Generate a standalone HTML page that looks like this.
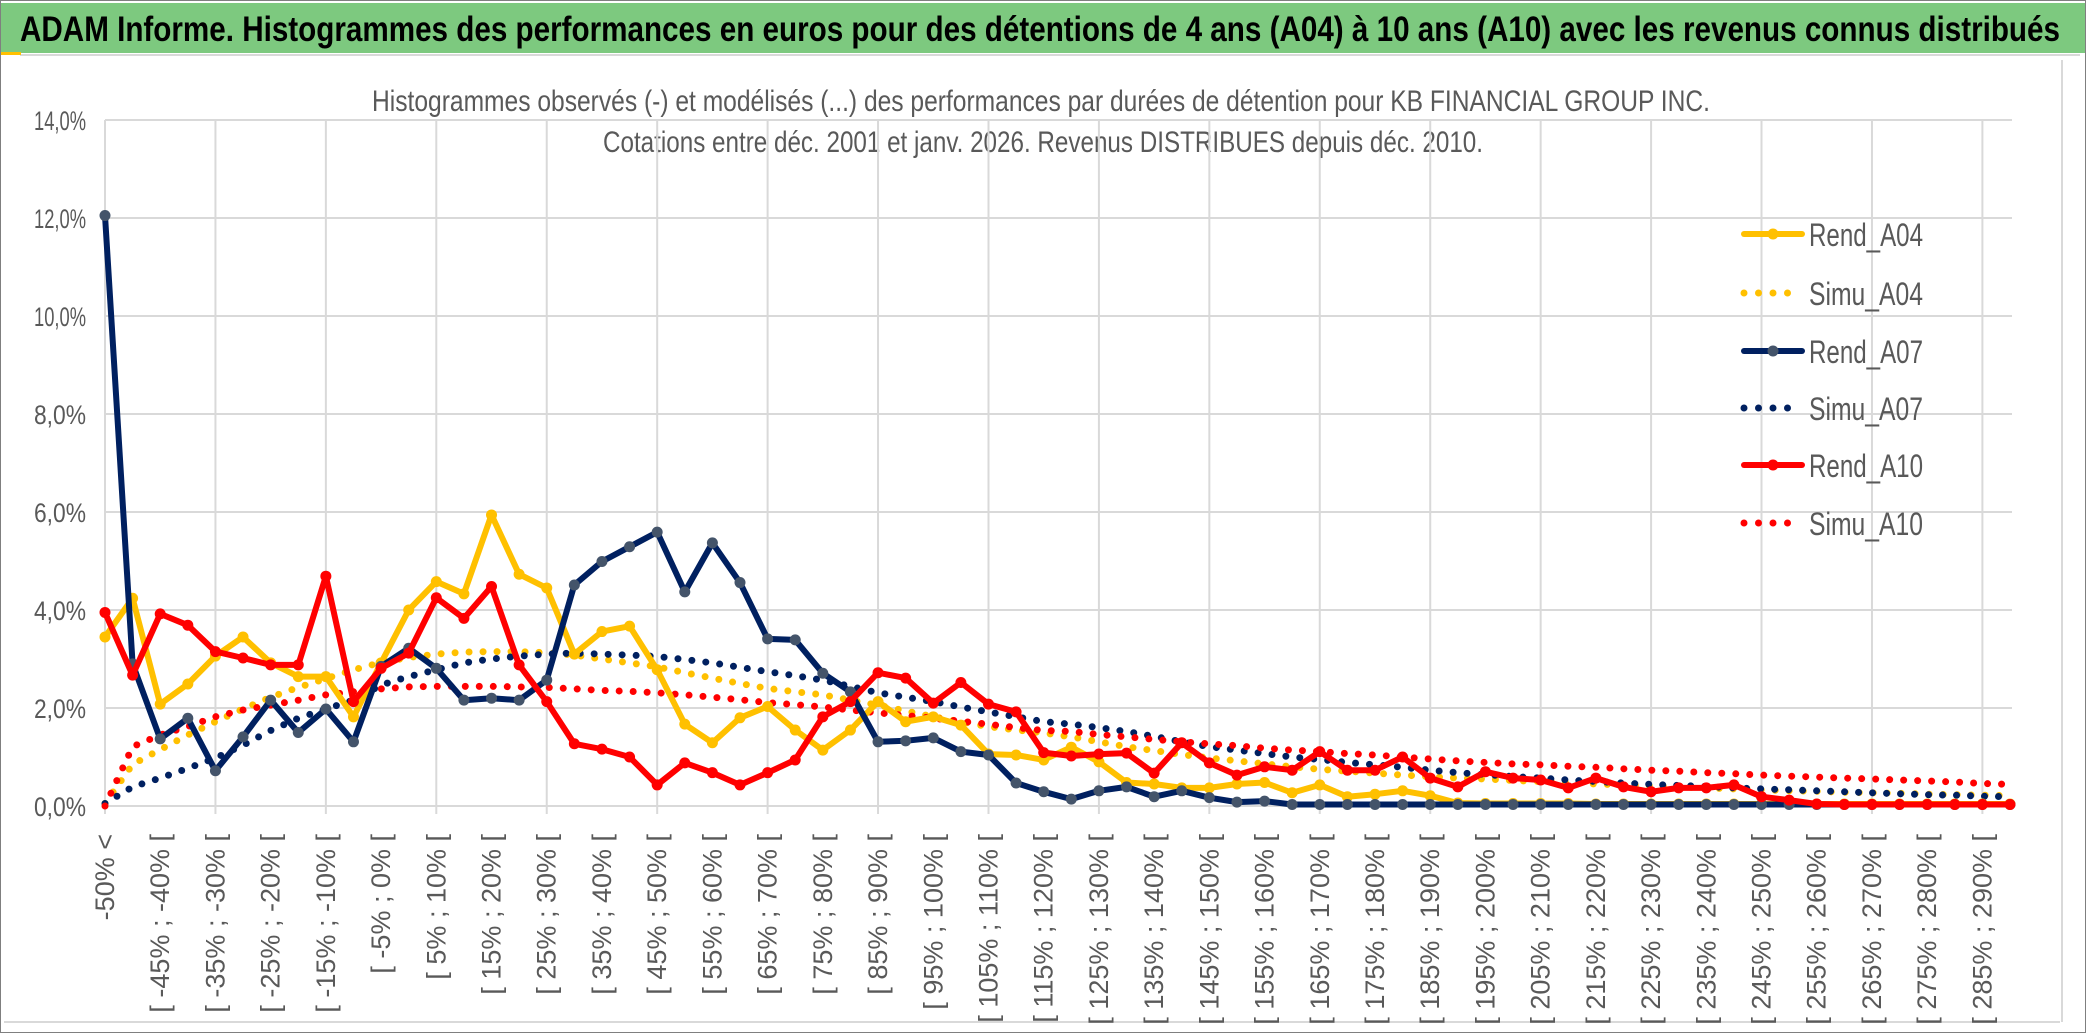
<!DOCTYPE html>
<html><head><meta charset="utf-8"><style>
html,body{margin:0;padding:0;background:#fff;}
svg{display:block;font-family:"Liberation Sans",sans-serif;}
</style></head><body>
<svg id="chart" width="2086" height="1033" viewBox="0 0 2086 1033" xmlns="http://www.w3.org/2000/svg">
<rect x="0.5" y="0.5" width="2085" height="1032" fill="#fff" stroke="#7f7f7f"/>
<rect x="1" y="3" width="2084" height="50" fill="#7dc97f"/>
<line x1="20" y1="55" x2="2080" y2="55" stroke="#d9d9d9" stroke-width="2"/>
<rect x="1" y="52" width="20" height="3" fill="#ffc000"/>
<text x="20" y="41" font-size="35" font-weight="bold" fill="#000" textLength="2040" lengthAdjust="spacingAndGlyphs">ADAM Informe. Histogrammes des performances en euros pour des détentions de 4 ans (A04) à 10 ans (A10) avec les revenus connus distribués</text>
<text x="372" y="111" font-size="30" fill="#595959" textLength="1338" lengthAdjust="spacingAndGlyphs">Histogrammes observés (-) et modélisés (...) des performances par durées de détention pour KB FINANCIAL GROUP INC.</text>
<text x="603" y="152" font-size="30" fill="#595959" textLength="880" lengthAdjust="spacingAndGlyphs">Cotations entre déc. 2001 et janv. 2026. Revenus DISTRIBUES depuis déc. 2010.</text>
<line x1="4" y1="1022" x2="2060" y2="1022" stroke="#d9d9d9" stroke-width="2"/>
<line x1="2062" y1="60" x2="2062" y2="1022" stroke="#d9d9d9" stroke-width="2"/>
<g id="grid"></g><g id="axes"></g><g id="series"></g><g id="legend"></g>
</svg>
<script>
const yTicks = [0,2,4,6,8,10,12,14];
const simuA04 = [0.05,0.85,1.15,1.45,1.72,1.98,2.22,2.42,2.6,2.78,2.93,3.03,3.1,3.14,3.15,3.15,3.13,3.08,3.0,2.92,2.84,2.72,2.61,2.5,2.4,2.33,2.27,2.16,2.06,1.94,1.82,1.72,1.62,1.55,1.49,1.41,1.31,1.21,1.13,1.05,0.98,0.92,0.86,0.8,0.75,0.71,0.67,0.63,0.6,0.57,0.55,0.52,0.5,0.48,0.45,0.43,0.41,0.39,0.37,0.35,0.33,0.31,0.3,0.28,0.27,0.26,0.24,0.23,0.22,0.21];
const simuA07 = [0.05,0.39,0.57,0.77,0.98,1.24,1.54,1.79,1.98,2.16,2.47,2.64,2.78,2.92,3.0,3.06,3.1,3.12,3.1,3.08,3.05,2.99,2.92,2.83,2.74,2.66,2.57,2.44,2.31,2.22,2.13,2.02,1.92,1.82,1.72,1.67,1.6,1.52,1.42,1.31,1.21,1.14,1.07,1.0,0.95,0.89,0.84,0.79,0.73,0.68,0.64,0.6,0.57,0.53,0.5,0.47,0.44,0.42,0.4,0.37,0.35,0.33,0.31,0.29,0.27,0.25,0.23,0.22,0.2,0.19];
const simuA10 = [0.0,1.21,1.45,1.62,1.82,1.96,2.06,2.16,2.27,2.33,2.39,2.43,2.44,2.44,2.44,2.43,2.42,2.39,2.36,2.34,2.31,2.27,2.22,2.17,2.11,2.07,2.02,1.96,1.9,1.85,1.79,1.73,1.67,1.6,1.54,1.52,1.46,1.41,1.36,1.31,1.27,1.23,1.18,1.14,1.11,1.07,1.04,1.0,0.96,0.92,0.89,0.86,0.84,0.81,0.79,0.76,0.73,0.71,0.68,0.66,0.63,0.61,0.59,0.57,0.55,0.53,0.51,0.49,0.46,0.44];
const rendA04 = [3.45,4.24,2.08,2.49,3.06,3.45,2.92,2.64,2.64,1.82,2.92,4.0,4.58,4.33,5.94,4.73,4.45,3.1,3.56,3.67,2.78,1.67,1.29,1.8,2.03,1.55,1.14,1.55,2.13,1.72,1.82,1.65,1.06,1.04,0.94,1.2,0.9,0.48,0.45,0.37,0.37,0.45,0.48,0.27,0.43,0.19,0.24,0.31,0.21,0.06,0.05,0.05,0.05,0.05,0.04,0.04,0.04,0.04,0.04,0.04,0.04,0.04,0.04,0.04,0.04,0.04,0.04,0.04,0.04,0.04];
const rendA07 = [12.05,2.9,1.37,1.79,0.72,1.41,2.16,1.5,1.98,1.31,2.85,3.22,2.81,2.16,2.2,2.16,2.57,4.51,4.99,5.29,5.59,4.37,5.37,4.56,3.41,3.39,2.71,2.33,1.31,1.33,1.39,1.11,1.04,0.47,0.29,0.14,0.31,0.39,0.19,0.31,0.17,0.08,0.1,0.03,0.03,0.03,0.03,0.03,0.03,0.03,0.03,0.03,0.03,0.03,0.03,0.03,0.03,0.03,0.03,0.03,0.03,0.03,0.03,0.03,0.03,0.03,0.03,0.03,0.03,0.03];
const rendA10 = [3.95,2.67,3.92,3.69,3.15,3.02,2.88,2.88,4.69,2.13,2.81,3.12,4.25,3.83,4.48,2.88,2.13,1.27,1.16,1.0,0.43,0.88,0.68,0.43,0.68,0.94,1.82,2.13,2.72,2.61,2.1,2.52,2.08,1.92,1.09,1.02,1.06,1.08,0.67,1.29,0.88,0.63,0.8,0.73,1.11,0.73,0.73,1.0,0.57,0.39,0.7,0.57,0.53,0.37,0.57,0.39,0.29,0.37,0.37,0.43,0.19,0.12,0.04,0.03,0.03,0.03,0.03,0.03,0.03,0.03];
const seriesNames = ["Rend_A04","Simu_A04","Rend_A07","Simu_A07","Rend_A10","Simu_A10"];
const categories = [];
categories.push("-50% <");
for (let k = 1; k < 70; k++) { const a = -55 + 5 * k, b = -50 + 5 * k; categories.push("[ " + a + "% ; " + b + "% ["); }

const NS = "http://www.w3.org/2000/svg";
const X0 = 105, X1 = 2010, Y0 = 806, YTOP = 120, YMAX = 14;
function xs(i){ return X0 + (X1 - X0) * i / (categories.length - 1); }
function ys(v){ return Y0 - (Y0 - YTOP) * v / YMAX; }
function mk(tag, attrs, parent){ const e = document.createElementNS(NS, tag); for (const k in attrs) e.setAttribute(k, attrs[k]); parent.appendChild(e); return e; }

const grid = document.getElementById("grid");
yTicks.forEach(t => {
  const l = mk("line", {x1: X0, x2: 2012, y1: ys(t), y2: ys(t), stroke: "#d9d9d9", "stroke-width": 2}, grid);
  
  
});
for (let i = 0; i < categories.length; i += 4) {
  const l = mk("line", {x1: xs(i), x2: xs(i), y1: YTOP, y2: Y0 + 8, stroke: "#d9d9d9", "stroke-width": 2}, grid);
  
  
}
const axes = document.getElementById("axes");
yTicks.forEach(t => {
  const tx = mk("text", {x: 86, y: ys(t) + 10, "font-size": 27, fill: "#595959", "text-anchor": "end", textLength: 52, lengthAdjust: "spacingAndGlyphs"}, axes);
  tx.textContent = t.toFixed(1).replace(".", ",") + "%";
  
  
});
for (let i = 0; i < categories.length; i += 2) {
  const x = xs(i) + 9, y = 834;
  const tx = mk("text", {x: x, y: y, "font-size": 27, fill: "#595959", "text-anchor": "end", transform: "rotate(-90 " + x + " " + y + ")"}, axes);
  tx.textContent = categories[i];
  
  
}

const series = document.getElementById("series");
function pts(arr){ return arr.map((v, i) => xs(i).toFixed(1) + "," + ys(v).toFixed(1)).join(" "); }
function dotted(arr, color, name){
  const p = mk("polyline", {points: pts(arr), fill: "none", stroke: color, "stroke-width": 7, "stroke-linecap": "round", "stroke-dasharray": "0 14"}, series);
  
  
}
function solid(arr, color, mcolor, name){
  const p = mk("polyline", {points: pts(arr), fill: "none", stroke: color, "stroke-width": 6, "stroke-linejoin": "round"}, series);
  
  
  arr.forEach((v, i) => {
    const c = mk("circle", {cx: xs(i), cy: ys(v), r: 5.5, fill: mcolor}, series);
    
    
  });
}
dotted(simuA04, "#ffc000", "simu-a04-line");
dotted(simuA07, "#002060", "simu-a07-line");
dotted(simuA10, "#ff0000", "simu-a10-line");
solid(rendA04, "#ffc000", "#ffc000", "rend-a04-line");
solid(rendA07, "#002060", "#44546a", "rend-a07-line");
solid(rendA10, "#ff0000", "#ff0000", "rend-a10-line");

const legend = document.getElementById("legend");
const legColors = ["#ffc000","#ffc000","#002060","#002060","#ff0000","#ff0000"];
const legMarker = ["#ffc000",null,"#44546a",null,"#ff0000",null];
const legY = [234,293,351,408,465,523];
seriesNames.forEach((n, k) => {
  const g = mk("g", {}, legend);
  
  
  const y = legY[k];
  if (legMarker[k]) {
    mk("line", {x1: 1744, x2: 1802, y1: y, y2: y, stroke: legColors[k], "stroke-width": 6, "stroke-linecap": "round"}, g);
    mk("circle", {cx: 1773, cy: y, r: 5.5, fill: legMarker[k]}, g);
  } else {
    mk("line", {x1: 1744, x2: k === 5 ? 1802 : 1790, y1: y, y2: y, stroke: legColors[k], "stroke-width": 7, "stroke-linecap": "round", "stroke-dasharray": "0 14.5"}, g);
  }
  const t = mk("text", {x: 1809, y: y + 12, "font-size": 32, fill: "#595959", textLength: 114, lengthAdjust: "spacingAndGlyphs"}, g);
  t.textContent = n;
});
</script>
</body></html>
